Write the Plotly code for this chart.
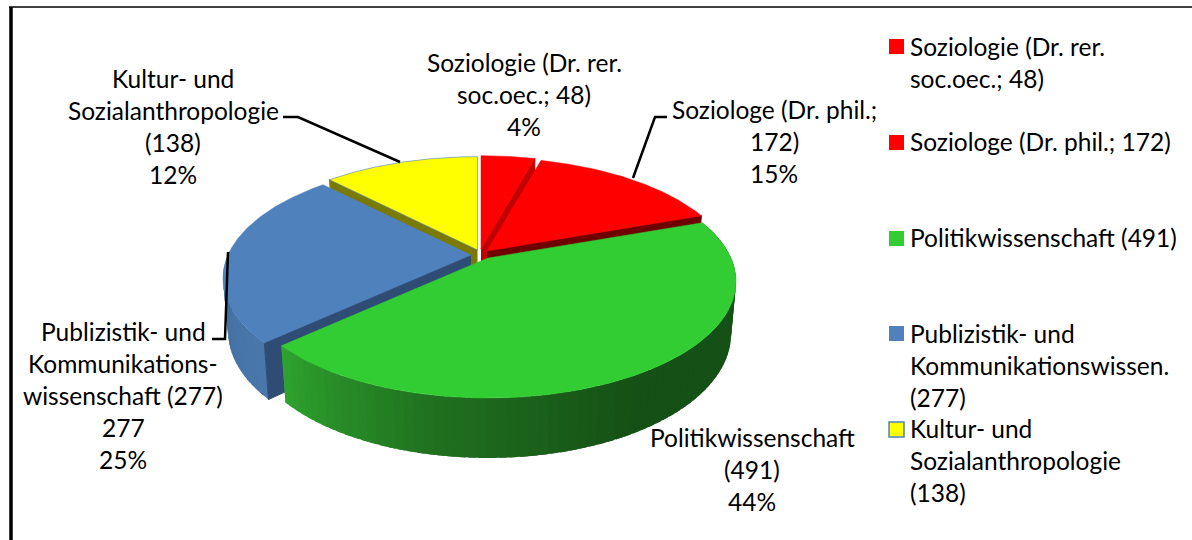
import numpy as np
import plotly.graph_objects as go

# chart values
categories = ["Soziologie (Dr. rer. soc.oec.; 48)", "Soziologe (Dr. phil.; 172)", "Politikwissenschaft (491)",
              "Publizistik- und Kommunikationswissen. (277)", "Kultur- und Sozialanthropologie (138)"]
values = [48, 172, 491, 277, 138]

label_lines = [
    ["Soziologie (Dr. rer.", "soc.oec.; 48)", "4%"],
    ["Soziologe (Dr. phil.;", "172)", "15%"],
    ["Politikwissenschaft", "(491)", "44%"],
    ["Publizistik- und", "Kommunikations-", "wissenschaft (277)", "277", "25%"],
    ["Kultur- und", "Sozialanthropologie", "(138)", "12%"],
]
legend_lines = [
    ["Soziologie (Dr. rer.", "soc.oec.; 48)"],
    ["Soziologe (Dr. phil.; 172)"],
    ["Politikwissenschaft (491)"],
    ["Publizistik- und", "Kommunikationswissen.", "(277)"],
    ["Kultur- und", "Sozialanthropologie", "(138)"],
]

# layout of the picture, in pixels of the page
label_x = [524, 774, 752, 123, 173]
label_y = [62, 109, 437, 331, 78]
legend_text_y = [46, 141, 237, 333, 428]
legend_box_y = [46.5, 142.5, 238.5, 333.5, 429.5]
line_step = 32
font = "Lato"
font_size = 24.5

slice_colors = ["#FF0000", "#FF0000", "#32CD32", "#4F81BD", "#FFFF00"]
inner_colors = ["#C00000", "#6E0000", None, "#2F4D74", "#7A7A00"]
apex = [(481, 249), (487, 251), (488, 258), (471, 255), (477.5, 250)]

# ellipse with a bit of perspective, front is bigger than back
A, B, KX, KY = 243, 112, 0.2, 0.2
DEPTH, KD, SHRINK = 51, 0.15, 0.98

total = sum(values)
edges = np.concatenate([[0], np.cumsum(values)]) / total * 360


def top_point(c, theta):
    u, v = np.sin(np.radians(theta)), np.cos(np.radians(theta))
    return c[0] + A * u / (1 + KX * v), c[1] - B * v / (1 + KY * v)


def bottom_point(c, theta):
    x, y = top_point(c, theta)
    v = np.cos(np.radians(theta))
    return c[0] + (x - c[0]) * SHRINK, y + DEPTH / (1 + KD * v)


def mix(stops, t):
    ts = [s[0] for s in stops]
    rgb = [int(np.interp(t, ts, [s[1][i] for s in stops])) for i in range(3)]
    return "rgb({},{},{})".format(*rgb)


fig = go.Figure()


def add_poly(xs, ys, color, line_color=None, line_width=1):
    fig.add_trace(go.Scatter(x=list(xs), y=list(ys), mode="lines", fill="toself", fillcolor=color,
                             line=dict(color=line_color or color, width=line_width),
                             hoverinfo="skip", showlegend=False))


def add_outer_wall(i, t0, t1, stops):
    c = apex[i]
    angles = np.arange(t0, t1 + 2, 2.0)
    # every strip runs on under the next one so no seams show
    for a, b in zip(angles[:-1], angles[1:]):
        arc = np.linspace(a, min(b + 1.5, t1), 4)
        tops = [top_point(c, t) for t in arc]
        bottoms = [bottom_point(c, t) for t in arc[::-1]]
        p = tops + bottoms
        add_poly([q[0] for q in p], [q[1] for q in p], mix(stops, (a + b) / 2), line_width=0)


def add_inner_wall(i, theta):
    c = apex[i]
    bx, by = bottom_point(c, theta)
    tx, ty = top_point(c, theta)
    add_poly([c[0], tx, bx, c[0]], [c[1], ty, by, c[1] + DEPTH], inner_colors[i])


def add_top(i, line_color=None):
    c = apex[i]
    angles = np.linspace(edges[i], edges[i + 1], 150)
    pts = [top_point(c, a) for a in angles]
    add_poly([c[0]] + [p[0] for p in pts] + [c[0]], [c[1]] + [p[1] for p in pts] + [c[1]],
             slice_colors[i], line_color or slice_colors[i], 1 if line_color else 0.5)


blue_stops = [(227, (74, 120, 172)), (270, (66, 110, 160))]
green_stops = [(70, (26, 92, 22)), (120, (21, 80, 22)), (150, (22, 80, 22)), (190, (32, 112, 32)),
               (228, (47, 165, 47))]

# back to front
add_inner_wall(4, edges[4])
add_top(4, "rgba(79,129,189,0.6)")
add_outer_wall(3, edges[3], 272, blue_stops)
add_inner_wall(3, edges[3])
add_top(3)
add_inner_wall(0, edges[1])
add_top(0)
add_inner_wall(1, edges[2])
add_top(1)
add_outer_wall(2, edges[2], edges[3], green_stops)
add_top(2)

# legend boxes
fig.add_trace(go.Scatter(x=[896.5] * 5, y=legend_box_y, mode="markers", hoverinfo="skip", showlegend=False,
                         marker=dict(symbol="square", size=15, color=slice_colors,
                                     line=dict(color=["rgba(0,0,0,0)"] * 4 + ["#4F81BD"], width=[0, 0, 0, 0, 1.5]))))

annotations = []
for lines, x, y in zip(label_lines, label_x, label_y):
    for k, line in enumerate(lines):
        annotations.append(dict(x=x, y=y + k * line_step, text=line, showarrow=False, xref="x", yref="y",
                                xanchor="center", yanchor="middle"))
for lines, y in zip(legend_lines, legend_text_y):
    for k, line in enumerate(lines):
        annotations.append(dict(x=908, y=y + k * line_step, text=line, showarrow=False, xref="x", yref="y",
                                xanchor="left", yanchor="middle"))

leaders = [
    ([283, 298, 400], [117, 117, 162]),
    ([667, 655, 633], [117, 117, 178]),
    ([212, 225, 228], [339, 339, 252]),
]
for xs, ys in leaders:
    fig.add_trace(go.Scatter(x=xs, y=ys, mode="lines", line=dict(color="black", width=2.5),
                             hoverinfo="skip", showlegend=False))

# frame of the picture, only top and left
shapes = [
    dict(type="line", x0=9, x1=1192, y0=7, y1=7, xref="x", yref="y", line=dict(color="black", width=1.5)),
    dict(type="line", x0=11, x1=11, y0=7, y1=540, xref="x", yref="y", line=dict(color="black", width=3.5)),
]

fig.update_layout(
    width=1192, height=540, margin=dict(l=0, r=0, t=0, b=0),
    paper_bgcolor="white", plot_bgcolor="white", showlegend=False,
    font=dict(family=font, size=font_size, color="#000000"),
    annotations=annotations, shapes=shapes,
    xaxis=dict(range=[0, 1192], visible=False, fixedrange=True),
    yaxis=dict(range=[540, 0], visible=False, fixedrange=True),
)

fig.write_html("out.html", config={"displayModeBar": False},
               post_script="document.body.style.margin='0';document.body.style.overflow='hidden';")
